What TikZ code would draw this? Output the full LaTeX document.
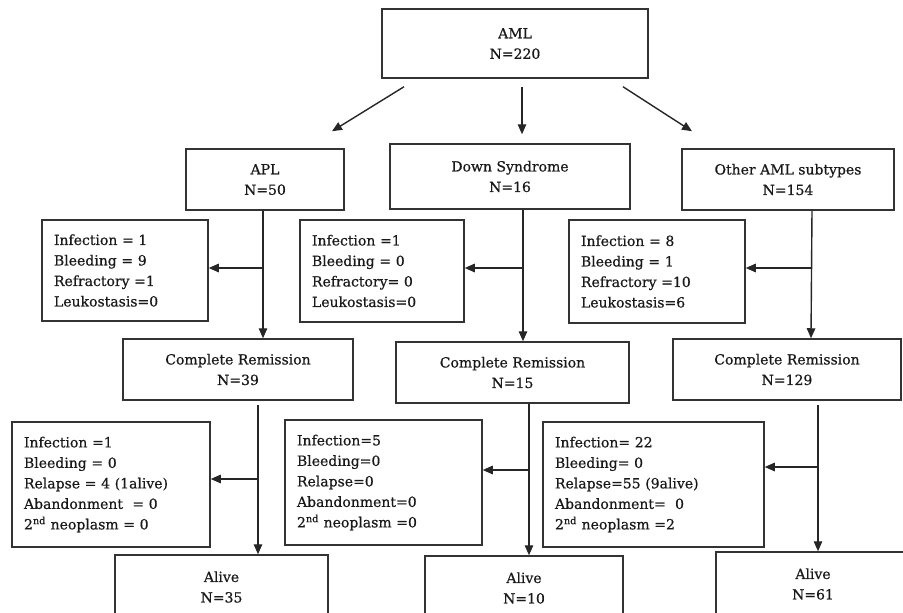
\documentclass[tikz,border=0pt]{standalone}
\usepackage{fontspec}
\setmainfont{DejaVu Serif}[BoldFont=DejaVu Serif, BoldFeatures={FakeBold=0.6}]
\usetikzlibrary{arrows.meta}
\begin{document}
\begin{tikzpicture}[x=1pt,y=-1pt,
  box/.style={draw=black!80, line width=1.5pt, rectangle, align=center, inner sep=0pt,
    font=\fontsize{14}{20.5}\selectfont\bfseries, text=black!90},
  list/.style={box, align=left, inner xsep=12pt},
  arr/.style={draw=black!85, line width=1.4pt, -{Triangle[length=10pt,width=8.5pt]}}]
\useasboundingbox (0,0) rectangle (903,613);
\clip (0,0) rectangle (903,613);
% top
\node[box, minimum width=266pt, minimum height=69pt] (aml) at (515,43.5) {AML\\N=220};
\node[box, minimum width=158pt, minimum height=61pt] (apl) at (265,179.5) {APL\\N=50};
\node[box, minimum width=240pt, minimum height=65pt] (down) at (510,176.5) {Down Syndrome\\N=16};
\node[box, minimum width=212pt, minimum height=61pt] (other) at (788,179.5) {Other AML subtypes\\N=154};
% first complication boxes
\node[list, minimum width=166pt, minimum height=101pt, text width=142pt] (inf1) at (125,270.5)
  {Infection = 1\\Bleeding = 9\\Refractory =1\\Leukostasis=0};
\node[list, minimum width=164pt, minimum height=102pt, text width=140pt] (inf2) at (382,271)
  {Infection =1\\Bleeding = 0\\Refractory= 0\\Leukostasis=0};
\node[list, minimum width=176pt, minimum height=103pt, text width=152pt] (inf3) at (657,271.5)
  {Infection = 8\\Bleeding = 1\\Refractory =10\\Leukostasis=6};
% complete remission
\node[box, minimum width=230pt, minimum height=61pt] (cr1) at (238,369.5) {Complete Remission\\N=39};
\node[box, minimum width=233pt, minimum height=61pt] (cr2) at (512.5,372.5) {Complete Remission\\N=15};
\node[box, minimum width=228pt, minimum height=61pt] (cr3) at (787,369.5) {Complete Remission\\N=129};
% second complication boxes
\node[list, minimum width=198pt, minimum height=125pt, text width=174pt] (b4) at (111,484.5)
  {Infection =1\\Bleeding = 0\\Relapse = 4 (1alive)\\Abandonment \ = 0\\2\textsuperscript{nd} neoplasm = 0};
\node[list, minimum width=197pt, minimum height=125pt, text width=173pt] (b5) at (383.5,482.5)
  {Infection=5\\Bleeding=0\\Relapse=0\\Abandonment=0\\2\textsuperscript{nd} neoplasm =0};
\node[list, minimum width=221pt, minimum height=125pt, text width=197pt] (b6) at (653.5,484.5)
  {Infection= 22\\Bleeding= 0\\Relapse=55 (9alive)\\Abandonment= \ 0\\2\textsuperscript{nd} neoplasm =2};
% alive
\node[box, minimum width=213pt, minimum height=64pt] (al1) at (221.5,587) {Alive\\N=35};
\node[box, minimum width=198pt, minimum height=64pt] (al2) at (524,588) {Alive\\N=10};
\node[box, minimum width=194pt, minimum height=64pt] (al3) at (813,584) {Alive\\N=61};
% arrows from AML
\draw[arr] ([xshift=-111pt,yshift=-8pt]aml.south) -- ([xshift=67pt,yshift=17pt]apl.north);
\draw[arr] ([xshift=7pt,yshift=-8pt]aml.south) -- ([xshift=12pt,yshift=9pt]down.north);
\draw[arr] ([xshift=108pt,yshift=-8pt]aml.south) -- ([xshift=-96pt,yshift=17pt]other.north);
% verticals to CR
\draw[arr] ([xshift=-2pt]apl.south) -- ([xshift=25pt]cr1.north);
\draw[arr] ([xshift=13pt]down.south) -- ([xshift=10.5pt]cr2.north);
\draw[arr] ([xshift=24pt]other.south) -- ([xshift=24pt]cr3.north);
\coordinate (j1) at (263,268);
\coordinate (j2) at (523,268);
\coordinate (j3) at (812,268);
\draw[arr] (j1) -- (j1 -| inf1.east);
\draw[arr] (j2) -- (j2 -| inf2.east);
\draw[arr] (j3) -- (j3 -| inf3.east);
% verticals to alive
\draw[arr] ([xshift=20pt,yshift=-4pt]cr1.south) -- ([xshift=36.5pt]al1.north);
\draw[arr] ([xshift=16.5pt]cr2.south) -- ([xshift=5pt]al2.north);
\draw[arr] ([xshift=31pt,yshift=-4pt]cr3.south) -- ([xshift=5pt]al3.north);
\coordinate (k1) at (258,479);
\coordinate (k2) at (529,470);
\coordinate (k3) at (818,467);
\draw[arr] (k1) -- (k1 -| b4.east);
\draw[arr] (k2) -- (k2 -| b5.east);
\draw[arr] (k3) -- (k3 -| b6.east);
\end{tikzpicture}
\end{document}
